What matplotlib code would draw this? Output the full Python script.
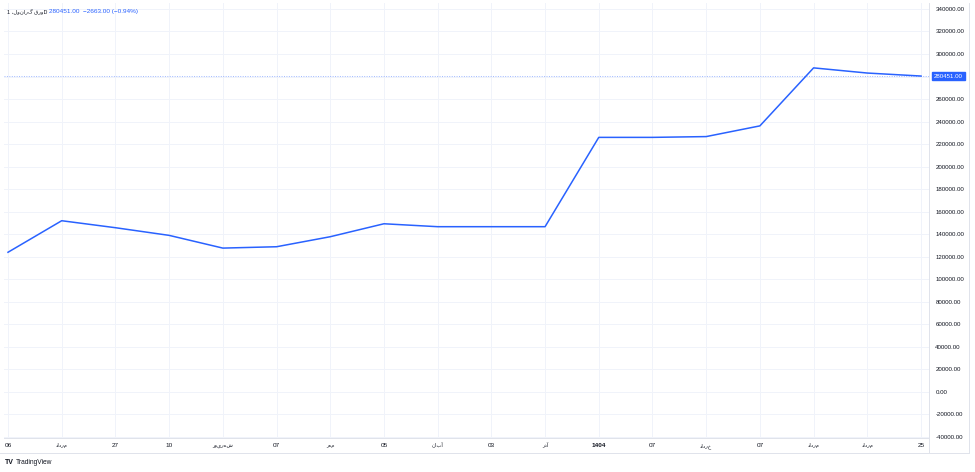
import matplotlib
matplotlib.use("Agg")
import matplotlib.pyplot as plt
import matplotlib.transforms as mtransforms
from matplotlib.lines import Line2D

# Data (one point per time-axis label)
tick_labels = ["06", "مرداد", "27", "10", "شهریور", "07", "مهر", "05", "آبان",
               "03", "آذر", "1404", "07", "خرداد", "07", "مرداد", "مرداد", "25"]
prices = [124000, 152000, 145800, 139000, 127700, 128900, 137800, 149300, 146700,
          146700, 146700, 226000, 226000, 226700, 236200, 287700, 283114, 280451]
price_ticks = list(range(-40000, 340001, 20000))
symbol = "ورق گرانول"
last_price = 280451.00
change = -2663.00
change_pct = -0.94

BLUE = "#2962ff"
TEXT = "#131722"
GRID = "#f0f3fa"
BORDER = "#e0e3eb"

W, H = 975, 472

plt.rcParams["font.family"] = ["Liberation Sans", "DejaVu Sans"]


def is_rtl(s):
    return any("\u0600" <= c <= "\u06ff" for c in s)


def vis(s):
    # matplotlib has no bidi support: lay Persian text out right-to-left by hand
    return s[::-1] if is_rtl(s) else s


def fx(px):
    return px / W


def fy(py):
    return 1 - py / H


fig = plt.figure(figsize=(W / 100, H / 100), dpi=100)
fig.patch.set_facecolor("white")

# plot area in pixels: x 4..929, y 3..438
ax = fig.add_axes([fx(4), fy(438), fx(929 - 4), (438 - 3) / H])
ax.set_facecolor("white")

x = list(range(len(prices)))
ax.plot(x, prices, color=BLUE, lw=1.1, solid_joinstyle="round", zorder=3)

step = 53.7
ax.set_xlim(-4 / step, len(prices) - 1 + 8 / step)
ax.set_ylim(-40900, 345300)

ax.set_xticks(x)
ax.set_xticklabels([vis(t) for t in tick_labels], fontsize=4.6, color=TEXT)
for lbl, t in zip(ax.get_xticklabels(), tick_labels):
    if t == "1404":
        lbl.set_fontweight("bold")
    if is_rtl(t):
        lbl.set_fontsize(3.8)
ax.tick_params(axis="x", length=0, pad=3.5)

ax.yaxis.tick_right()
ax.set_yticks(price_ticks)
ax.set_yticklabels([f"{v:.2f}" for v in price_ticks], fontsize=4.4, color=TEXT)
ax.tick_params(axis="y", length=0, pad=4.5)

ax.grid(True, color=GRID, lw=0.7, zorder=0)
for side in ["top", "left"]:
    ax.spines[side].set_visible(False)
ax.spines["right"].set_color(BORDER)
ax.spines["bottom"].set_color(BORDER)
ax.spines["right"].set_linewidth(0.7)
ax.spines["bottom"].set_linewidth(0.7)

# last price line and label
ax.axhline(last_price, color=BLUE, lw=0.7, ls=(0, (1, 1.5)), alpha=0.45, zorder=2)
trans = mtransforms.blended_transform_factory(ax.transAxes, ax.transData)
ax.text(1.0 + 5 / (929 - 4), last_price, f"{last_price:.2f}", transform=trans,
        fontsize=4.4, color="white", va="center", ha="left", clip_on=False,
        bbox=dict(boxstyle="square,pad=0.3", fc=BLUE, ec=BLUE))

# outer frame: right edge of price scale and bottom of time scale
fig.add_artist(Line2D([fx(969), fx(969)], [fy(3), fy(453)], color=BORDER, lw=0.7))
fig.add_artist(Line2D([fx(0), fx(969)], [fy(453), fy(453)], color=BORDER, lw=0.7))
fig.add_artist(Line2D([fx(929), fx(929)], [fy(438), fy(453)], color=BORDER, lw=0.7))

# legend line at top-left
head = fig.text(fx(7), fy(12), "1 ،" + vis(symbol) + "D", fontsize=3.9, color=TEXT,
                va="center", ha="left")
fig.text(fx(49), fy(12), f"{last_price:.2f}  {change:.2f} ({change_pct:.2f}%)".replace("-", "\u2212"),
         fontsize=4.6, color=BLUE, va="center", ha="left")

# watermark
fig.text(fx(5), fy(462), "TV", fontsize=5, fontweight="bold", color=TEXT,
         va="center", ha="left")
fig.text(fx(16), fy(462), "TradingView", fontsize=4.8, color=TEXT,
         va="center", ha="left")

fig.savefig("out.png", dpi=100, facecolor="white")
